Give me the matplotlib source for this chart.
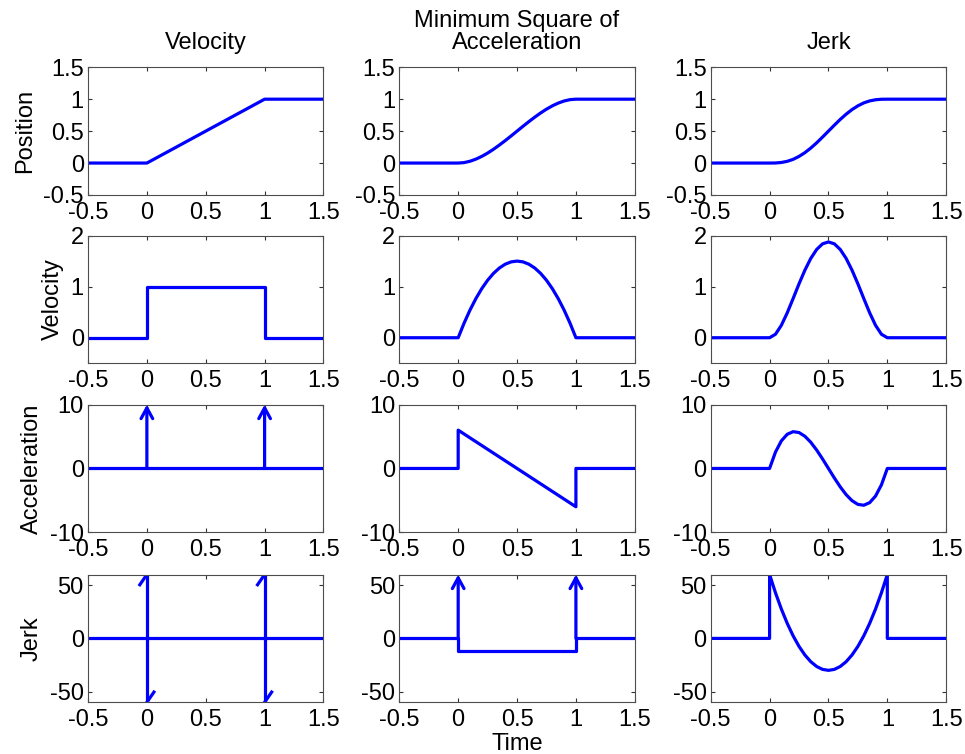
#!/usr/bin/env python

# Position / velocity / acceleration / jerk profiles for three
# minimum-cost trajectories, drawn in the old MATLAB subplot style.

import matplotlib
matplotlib.use("Agg")
import matplotlib.pyplot as plt
import numpy as np

plt.rcParams["font.family"] = ["Liberation Sans", "DejaVu Sans"]
plt.rcParams["font.size"] = 17

# --- data ----------------------------------------------------------------
col_titles = ["Velocity", "Minimum Square of\nAcceleration", "Jerk"]
row_labels = ["Position", "Velocity", "Acceleration", "Jerk"]
x_ticks = [-0.5, 0, 0.5, 1, 1.5]
y_limits = [(-0.5, 1.5), (-0.5, 2), (-10, 10), (-60, 60)]
y_ticks = [[-0.5, 0, 0.5, 1, 1.5], [0, 1, 2], [-10, 0, 10], [-50, 0, 50]]

# sample times across the movement (0..1)
t_move = [0.0, 0.05, 0.1, 0.15, 0.2, 0.25, 0.3, 0.35, 0.4, 0.45, 0.5,
          0.55, 0.6, 0.65, 0.7, 0.75, 0.8, 0.85, 0.9, 0.95, 1.0]

# minimum velocity column
vel_pos = [0.0, 1.0]
vel_pos_t = [0.0, 1.0]
vel_vel_t = [-0.5, 0, 0, 1, 1, 1.5]
vel_vel = [0, 0, 1, 1, 0, 0]
vel_acc_impulse_t = [0, 1]
vel_acc_impulse_h = [10, 10]
vel_jerk_doublet_t = [0, 1]

# minimum square of acceleration column
acc_pos = [0.0, 0.007, 0.028, 0.061, 0.104, 0.156, 0.216, 0.282, 0.352, 0.425, 0.5,
           0.575, 0.648, 0.718, 0.784, 0.844, 0.896, 0.939, 0.972, 0.993, 1.0]
acc_vel = [0.0, 0.285, 0.54, 0.765, 0.96, 1.125, 1.26, 1.365, 1.44, 1.485, 1.5,
           1.485, 1.44, 1.365, 1.26, 1.125, 0.96, 0.765, 0.54, 0.285, 0.0]
acc_acc_t = [-0.5, 0, 0, 1, 1, 1.5]
acc_acc = [0, 0, 6, -6, 0, 0]
acc_jerk_t = [-0.5, 0, 0, 1, 1, 1.5]
acc_jerk = [0, 0, -12, -12, 0, 0]
acc_jerk_impulse_t = [0, 1]
acc_jerk_impulse_h = [60, 60]

# minimum jerk column
jerk_pos = [0.0, 0.001, 0.009, 0.027, 0.058, 0.104, 0.163, 0.235, 0.317, 0.407, 0.5,
            0.593, 0.683, 0.765, 0.837, 0.896, 0.942, 0.973, 0.991, 0.999, 1.0]
jerk_vel = [0.0, 0.068, 0.243, 0.488, 0.768, 1.055, 1.323, 1.553, 1.728, 1.838, 1.875,
            1.838, 1.728, 1.553, 1.323, 1.055, 0.768, 0.488, 0.243, 0.068, 0.0]
jerk_acc = [0.0, 2.565, 4.32, 5.355, 5.76, 5.625, 5.04, 4.095, 2.88, 1.485, 0.0,
            -1.485, -2.88, -4.095, -5.04, -5.625, -5.76, -5.355, -4.32, -2.565, 0.0]
jerk_jerk = [60, 42.9, 27.6, 14.1, 2.4, -7.5, -15.6, -21.9, -26.4, -29.1, -30,
             -29.1, -26.4, -21.9, -15.6, -7.5, 2.4, 14.1, 27.6, 42.9, 60]

BLUE = (0, 0, 1)
LW = 2.3


def padded(t, y, before=0.0, after=None):
    """Add the resting segments before t=0 and after t=1."""
    if after is None:
        after = y[-1]
    tt = [-0.5, 0.0] + list(t) + [1.0, 1.5]
    yy = [before, before] + list(y) + [after, after]
    return tt, yy


def up_arrow(ax, x, h):
    ax.annotate("", xy=(x, h), xytext=(x, 0),
                arrowprops=dict(arrowstyle="->,head_length=0.55,head_width=0.3",
                                color=BLUE, lw=LW, shrinkA=0, shrinkB=0,
                                mutation_scale=14),
                annotation_clip=False)


def doublet(ax, x, lim):
    # vertical spike through the zero line, with a single barb at each end
    dx, dy = 0.06, lim * 0.16
    ax.plot([x, x], [-lim, lim], color=BLUE, lw=LW, solid_capstyle="butt")
    ax.plot([x - dx, x], [lim - dy, lim], color=BLUE, lw=LW)
    ax.plot([x, x + dx], [-lim, -lim + dy], color=BLUE, lw=LW)


fig = plt.figure(figsize=(9.65, 7.54), dpi=100)

lefts = [0.0912, 0.4138, 0.7365]
bottoms = [0.7414, 0.5182, 0.294, 0.0686]
width, height = 0.244, 0.1694

axes = [[fig.add_axes([lefts[c], bottoms[r], width, height]) for c in range(3)]
        for r in range(4)]

# column 1: minimum velocity
ax = axes[0][0]
ax.plot(*padded(vel_pos_t, vel_pos), color=BLUE, lw=LW)
ax = axes[1][0]
ax.plot(vel_vel_t, vel_vel, color=BLUE, lw=LW)
ax = axes[2][0]
ax.plot([-0.5, 1.5], [0, 0], color=BLUE, lw=LW)
for x, h in zip(vel_acc_impulse_t, vel_acc_impulse_h):
    up_arrow(ax, x, h)
ax = axes[3][0]
ax.plot([-0.5, 1.5], [0, 0], color=BLUE, lw=LW)
for x in vel_jerk_doublet_t:
    doublet(ax, x, y_limits[3][1])

# column 2: minimum square of acceleration
ax = axes[0][1]
ax.plot(*padded(t_move, acc_pos), color=BLUE, lw=LW)
ax = axes[1][1]
ax.plot(*padded(t_move, acc_vel), color=BLUE, lw=LW)
ax = axes[2][1]
ax.plot(acc_acc_t, acc_acc, color=BLUE, lw=LW)
ax = axes[3][1]
ax.plot(acc_jerk_t, acc_jerk, color=BLUE, lw=LW)
for x, h in zip(acc_jerk_impulse_t, acc_jerk_impulse_h):
    up_arrow(ax, x, h)

# column 3: minimum jerk
ax = axes[0][2]
ax.plot(*padded(t_move, jerk_pos), color=BLUE, lw=LW)
ax = axes[1][2]
ax.plot(*padded(t_move, jerk_vel), color=BLUE, lw=LW)
ax = axes[2][2]
ax.plot(*padded(t_move, jerk_acc), color=BLUE, lw=LW)
ax = axes[3][2]
ax.plot(*padded(t_move, jerk_jerk, after=0.0), color=BLUE, lw=LW)

for r in range(4):
    for c in range(3):
        ax = axes[r][c]
        ax.set_xlim(-0.5, 1.5)
        ax.set_ylim(*y_limits[r])
        ax.set_xticks(x_ticks)
        ax.set_xticklabels([f"{v:g}" for v in x_ticks])
        ax.set_yticks(y_ticks[r])
        ax.set_yticklabels([f"{v:g}" for v in y_ticks[r]])
        ax.tick_params(direction="in", top=True, right=True, length=3,
                       width=0.8, color="0.2", labelsize=17)
        ax.tick_params(axis="x", pad=5)
        ax.tick_params(axis="y", pad=3)
        for s in ax.spines.values():
            s.set_color("0.3")
            s.set_linewidth(0.8)
        if c == 0:
            ax.set_ylabel(row_labels[r], fontsize=17, labelpad=5)
        if r == 0:
            ax.set_title(col_titles[c], fontsize=17, pad=13, linespacing=1.0)

axes[3][1].set_xlabel("Time", fontsize=17, labelpad=1)

fig.savefig("out.png", dpi=100)
